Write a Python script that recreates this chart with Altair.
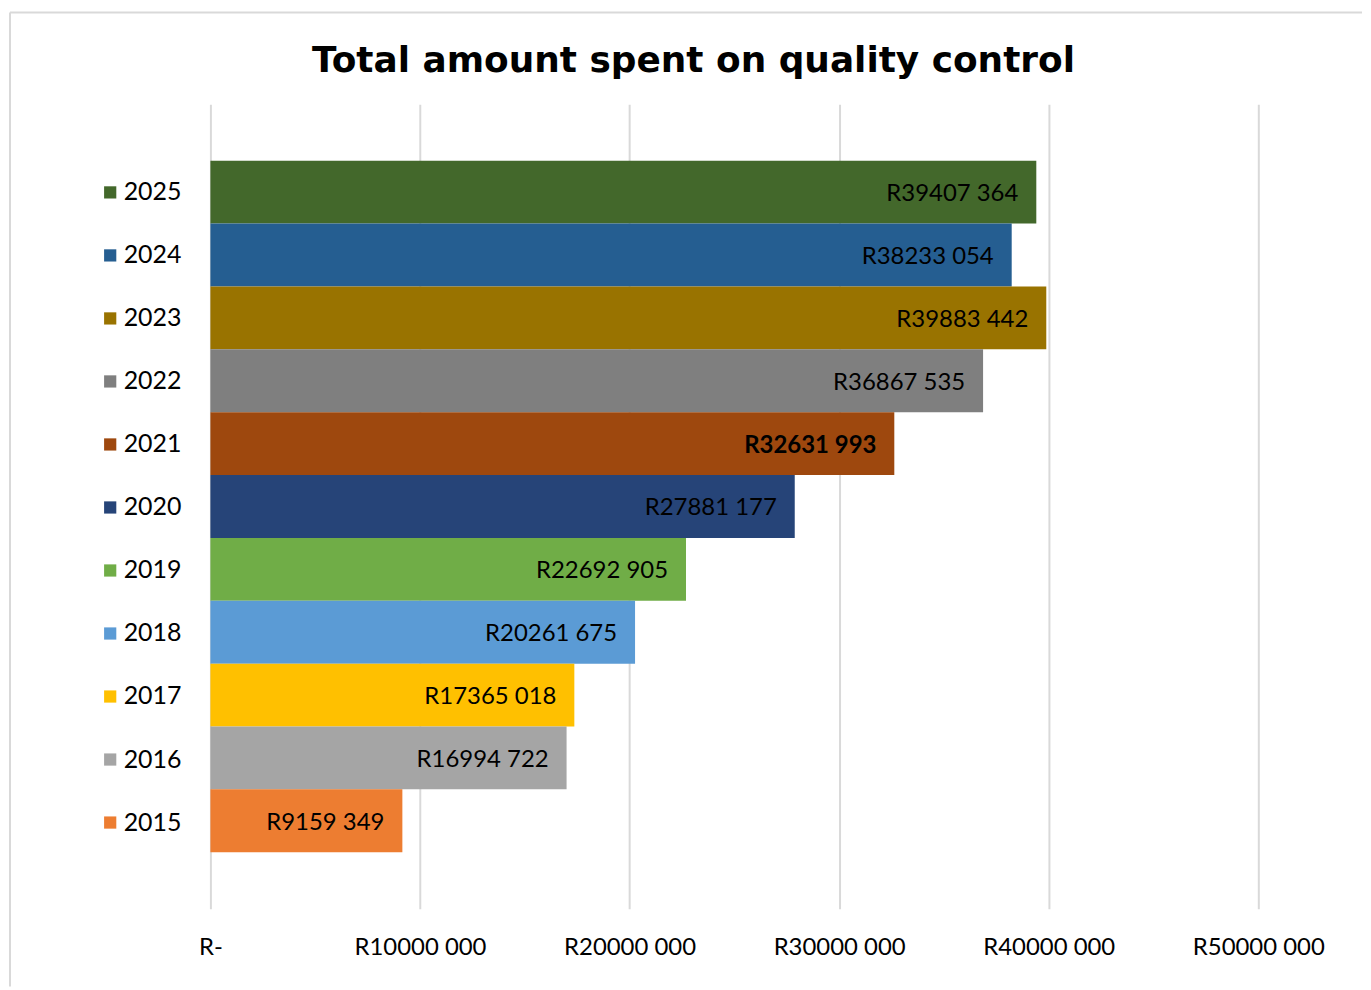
import altair as alt
import pandas as pd

years = ["2025", "2024", "2023", "2022", "2021", "2020", "2019", "2018", "2017", "2016", "2015"]
values = [39407364, 38233054, 39883442, 36867535, 32631993, 27881177, 22692905, 20261675, 17365018, 16994722, 9159349]
colors = ["#43682B", "#255E91", "#997300", "#7F7F7F", "#9E480E", "#264478", "#70AD47", "#5B9BD5", "#FFC000", "#A5A5A5", "#ED7D31"]
bold_year = "2021"
x_ticks = [0, 10000000, 20000000, 30000000, 40000000, 50000000]

FONT = "Lato"

df = pd.DataFrame({"year": years, "value": values})
df["label"] = ["R" + str(v // 1000) + " " + f"{v % 1000:03d}" for v in values]

base = alt.Chart(df)

y_enc = alt.Y("year:N", sort=years, axis=None,
              scale=alt.Scale(paddingInner=0, paddingOuter=0.9))

x_enc = alt.X(
    "value:Q",
    scale=alt.Scale(domain=[0, 50000000], nice=False),
    axis=alt.Axis(
        values=x_ticks,
        labelExpr="datum.value == 0 ? 'R-' : 'R' + format(datum.value / 1000, 'd') + ' 000'",
        grid=True, gridColor="#D9D9D9", gridWidth=2,
        domain=False, ticks=False, labelFlush=False, labelOverlap=False,
        labelFont=FONT, labelFontSize=24, labelColor="#000000",
        labelPadding=27, title=None,
    ),
)

bars = base.mark_bar().encode(
    x=x_enc,
    y=y_enc,
    color=alt.Color(
        "year:N", sort=years,
        scale=alt.Scale(domain=years, range=colors),
        legend=alt.Legend(
            orient="none", legendX=-113, legendY=76, title=None,
            symbolType="square", symbolSize=150, symbolStrokeWidth=0, symbolOpacity=1,
            labelFont=FONT, labelFontSize=25, labelColor="#000000",
            labelOffset=1, rowPadding=37.2,
        ),
    ),
)

text_normal = base.transform_filter(f"datum.year != '{bold_year}'").mark_text(
    align="right", baseline="middle", dx=-18, dy=2, font=FONT, fontSize=24, color="#000000"
).encode(x="value:Q", y=alt.Y("year:N", sort=years), text="label:N")

text_bold = base.transform_filter(f"datum.year == '{bold_year}'").mark_text(
    align="right", baseline="middle", dx=-18, dy=2, font=FONT, fontSize=24,
    fontWeight="bold", color="#000000"
).encode(x="value:Q", y=alt.Y("year:N", sort=years), text="label:N")

deco = alt.Chart(pd.DataFrame({"a": [0]}))
border_left = deco.mark_rule(color="#D9D9D9", strokeWidth=2).encode(
    x=alt.value(-201), y=alt.value(-92), y2=alt.value(885))
border_top = deco.mark_rule(color="#D9D9D9", strokeWidth=2).encode(
    x=alt.value(-201), x2=alt.value(1155), y=alt.value(-92))

chart = alt.layer(border_left, border_top, bars, text_normal, text_bold).properties(
    width=1051, height=807,
    padding={"left": 1, "top": 2, "right": 0, "bottom": 0},
    title=alt.TitleParams(
        "Total amount spent on quality control",
        font="DejaVu Sans", fontSize=36, fontWeight="bold", color="#000000",
        anchor="middle", dx=-41, offset=-69,
    ),
).configure_view(strokeWidth=0)

chart.save("out.html", embed_options={"renderer": "svg", "actions": False})
